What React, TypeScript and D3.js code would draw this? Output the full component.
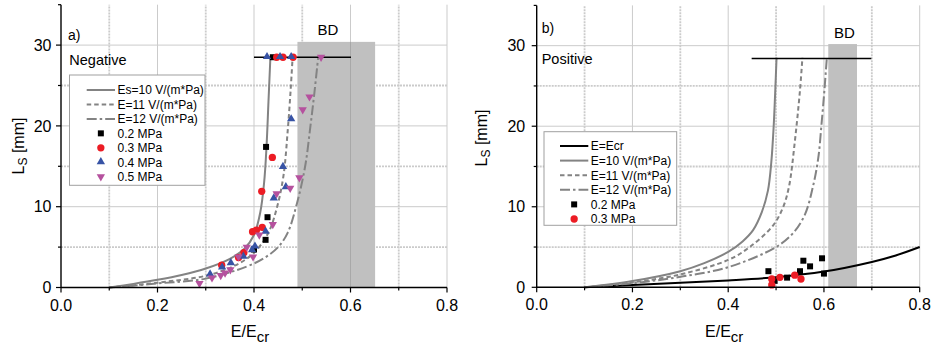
import React from "react";
import * as d3 from "d3";

type P = [number, number];

const X_MAJOR = [0, 0.2, 0.4, 0.6, 0.8];
const X_MINOR = [0.1, 0.3, 0.5, 0.7];
const Y_MAJOR = [0, 10, 20, 30];
const Y_MINOR = [5, 15, 25, 35];

// ---- Panel a) Negative ----
const A_ES10: P[] = [[0.1, 0], [0.15, 0.45], [0.2, 0.95], [0.25, 1.55], [0.3, 2.35], [0.35, 3.55], [0.38, 4.8], [0.4, 6.5], [0.413, 9.3], [0.421, 13], [0.426, 17.5], [0.43, 23], [0.434, 28.5]];
const A_E11: P[] = [[0.1, 0], [0.2, 0.6], [0.3, 1.45], [0.36, 2.7], [0.4, 4.3], [0.43, 6.8], [0.448, 10], [0.461, 13.8], [0.47, 19.5], [0.476, 24.5], [0.48, 28.5]];
const A_E12: P[] = [[0.1, 0], [0.2, 0.5], [0.3, 1.1], [0.385, 2.6], [0.42, 3.6], [0.45, 5.0], [0.47, 6.8], [0.489, 10.4], [0.506, 15], [0.517, 20], [0.525, 24], [0.533, 28.5]];
const A_P02: P[] = [[0.439, 28.5], [0.425, 17.4], [0.428, 8.7], [0.424, 5.9], [0.4, 4.7]];
const A_P03: P[] = [[0.447, 28.5], [0.46, 28.5], [0.481, 28.5], [0.438, 16.1], [0.416, 11.9], [0.397, 6.9], [0.405, 7.1], [0.417, 7.45], [0.379, 4.3], [0.368, 3.7], [0.333, 2.75]];
const A_P04: P[] = [[0.427, 28.5], [0.454, 28.5], [0.477, 28.5], [0.477, 20.8], [0.46, 14.9], [0.466, 12.4], [0.441, 11.0], [0.424, 6.9], [0.402, 5.05], [0.396, 4.6], [0.378, 3.8], [0.352, 3.0], [0.334, 2.45], [0.309, 1.6]];
const A_P05: P[] = [[0.539, 28.5], [0.515, 23.6], [0.501, 22.0], [0.494, 13.6], [0.475, 12.3], [0.447, 11.6], [0.439, 7.8], [0.411, 6.5], [0.385, 5.0], [0.398, 3.8], [0.368, 3.8], [0.351, 2.2], [0.34, 1.8], [0.331, 1.5], [0.313, 1.2], [0.287, 0.5]];
const A_BD: [number, number, number] = [0.49, 0.651, 30.4];
const A_LIMIT: [number, number, number] = [0.4, 0.601, 28.5];
const A_LEGEND = ["Es=10 V/(m*Pa)", "E=11 V/(m*Pa)", "E=12 V/(m*Pa)", "0.2 MPa", "0.3 MPa", "0.4 MPa", "0.5 MPa"];

// ---- Panel b) Positive ----
const B_ECR: P[] = [[0.1, 0], [0.2, 0.28], [0.3, 0.55], [0.4, 0.85], [0.5, 1.25], [0.6, 1.95], [0.7, 3.15], [0.75, 3.95], [0.8, 5.0]];
const B_E10: P[] = [[0.1, 0], [0.2, 0.78], [0.3, 2.0], [0.35, 3.0], [0.4, 4.4], [0.43, 5.7], [0.452, 7.1], [0.47, 9.3], [0.483, 12], [0.49, 15.5], [0.495, 20], [0.498, 24], [0.501, 28.5]];
const B_E11: P[] = [[0.1, 0], [0.2, 0.6], [0.3, 1.6], [0.4, 3.4], [0.445, 5], [0.494, 7.7], [0.515, 10], [0.527, 12.5], [0.539, 18], [0.55, 24.5], [0.555, 28.5]];
const B_E12: P[] = [[0.1, 0], [0.2, 0.5], [0.3, 1.3], [0.4, 2.5], [0.5, 5.0], [0.535, 6.7], [0.56, 9.0], [0.577, 12.5], [0.588, 16], [0.595, 20.3], [0.601, 24.5], [0.606, 28.5]];
const B_P02: P[] = [[0.484, 2.0], [0.497, 0.8], [0.523, 1.2], [0.55, 2.0], [0.557, 3.3], [0.571, 2.6], [0.596, 3.6], [0.6, 1.7]];
const B_P03: P[] = [[0.491, 1.03], [0.491, 0.3], [0.508, 1.24], [0.539, 1.5], [0.552, 1.03]];
const B_BD: [number, number, number] = [0.609, 0.669, 30.2];
const B_LIMIT: [number, number, number] = [0.449, 0.699, 28.4];
const B_LEGEND = ["E=Ecr", "E=10 V/(m*Pa)", "E=11 V/(m*Pa)", "E=12 V/(m*Pa)", "0.2 MPa", "0.3 MPa"];

const FONT = "'Liberation Sans', Arial, Helvetica, sans-serif";
const GRAY = "#838383";
const GRID = "#cbcbcb";

type LineStyle = { stroke: string; dash?: string; width: number };
const ST_BLACK: LineStyle = { stroke: "#000", width: 2 };
const ST_SOLID: LineStyle = { stroke: GRAY, width: 2 };
const ST_DASH: LineStyle = { stroke: GRAY, width: 2, dash: "4.5,3" };
const ST_DASHDOT: LineStyle = { stroke: GRAY, width: 2, dash: "10,3,2.5,3" };

type MarkerKind = "square" | "circle" | "up" | "down";
const MK: Record<MarkerKind, { fill: string; path: string }> = {
  square: { fill: "#000", path: d3.symbol(d3.symbolSquare, 36)()! },
  circle: { fill: "#ec1c24", path: d3.symbol(d3.symbolCircle, 42)()! },
  up: { fill: "#3753a5", path: d3.symbol(d3.symbolTriangle, 30)()! },
  down: { fill: "#b5519e", path: d3.symbol(d3.symbolTriangle, 30)()! },
};

function Marker({ kind, x, y }: { kind: MarkerKind; x: number; y: number }) {
  const m = MK[kind];
  const tr = kind === "down" ? `translate(${x},${y}) rotate(180)` : kind === "up" ? `translate(${x},${y - 0.5})` : `translate(${x},${y})`;
  return <path d={m.path} transform={tr} fill={m.fill} />;
}

type LegendItem = { label: string; line?: LineStyle; marker?: MarkerKind };

type PanelProps = {
  xr: [number, number];
  yr: [number, number];
  curves: { data: P[]; style: LineStyle }[];
  markers: { data: P[]; kind: MarkerKind }[];
  bd: [number, number, number];
  limit: [number, number, number];
  bdLabelX: number;
  tag: string;
  tagPos: [number, number];
  name: string;
  namePos: [number, number];
  legend: LegendItem[];
  legendBox: [number, number, number, number];
  legendRow0: number;
  legendStep: number;
  legendLineX: [number, number];
  yLabelGap: number;
  yTitle: [number, number];
};

function Panel(p: PanelProps) {
  const x = d3.scaleLinear().domain([0, 0.8]).range(p.xr);
  const y = d3.scaleLinear().domain([0, 35]).range(p.yr);
  const line = d3.line<P>().x((d) => x(d[0])).y((d) => y(d[1])).curve(d3.curveCatmullRom.alpha(0.5));
  const [x0, x1] = p.xr;
  const y0 = y(0);
  const yTop = y(35);
  const fmt = d3.format(".1f");
  const [lx, ly, lw, lh] = p.legendBox;
  return (
    <g fontFamily={FONT}>
      {/* minor grid */}
      {X_MINOR.map((v) => (
        <line key={"gxm" + v} x1={x(v)} x2={x(v)} y1={y0} y2={yTop} stroke={GRID} strokeWidth={1.8} strokeDasharray="2,1" />
      ))}
      {Y_MINOR.filter((v) => v < 35).map((v) => (
        <line key={"gym" + v} x1={x0} x2={x1} y1={y(v)} y2={y(v)} stroke={GRID} strokeWidth={1.8} strokeDasharray="2,1" />
      ))}
      {/* major grid */}
      {X_MAJOR.filter((v) => v > 0).map((v) => (
        <line key={"gx" + v} x1={x(v)} x2={x(v)} y1={y0} y2={yTop} stroke={GRID} strokeWidth={1} />
      ))}
      {Y_MAJOR.filter((v) => v > 0).map((v) => (
        <line key={"gy" + v} x1={x0} x2={x1} y1={y(v)} y2={y(v)} stroke={GRID} strokeWidth={1} />
      ))}
      {/* BD region */}
      <rect x={x(p.bd[0])} y={y(p.bd[2])} width={x(p.bd[1]) - x(p.bd[0])} height={y0 - y(p.bd[2])} fill="#c0c0c0" />
      {X_MAJOR.filter((v) => v > p.bd[0] && v < p.bd[1]).map((v) => (
        <line key={"gbd" + v} x1={x(v)} x2={x(v)} y1={y0} y2={y(p.bd[2])} stroke="#a8a8a8" strokeWidth={1} />
      ))}
      <text x={x(p.bdLabelX)} y={y(p.bd[2]) - 6.5} textAnchor="middle" fontSize={15}>BD</text>
      {/* curves */}
      {p.curves.map((c, i) => (
        <path key={"c" + i} d={line(c.data)!} fill="none" stroke={c.style.stroke} strokeWidth={c.style.width} strokeDasharray={c.style.dash} />
      ))}
      {/* limit line */}
      <line x1={x(p.limit[0])} x2={x(p.limit[1])} y1={y(p.limit[2])} y2={y(p.limit[2])} stroke="#000" strokeWidth={1.6} />
      {/* markers */}
      {p.markers.map((m, i) =>
        m.data.map((d, j) => <Marker key={"m" + i + "-" + j} kind={m.kind} x={x(d[0])} y={y(d[1])} />)
      )}
      {/* axes */}
      <line x1={x0} x2={x0} y1={y0 + 0.6} y2={yTop} stroke="#000" strokeWidth={1.4} />
      <line x1={x0} x2={x1} y1={y0} y2={y0} stroke="#000" strokeWidth={1.4} />
      {X_MAJOR.map((v) => (
        <line key={"tx" + v} x1={x(v)} x2={x(v)} y1={y0} y2={y0 + 5} stroke="#000" strokeWidth={1.2} />
      ))}
      {X_MINOR.map((v) => (
        <line key={"txm" + v} x1={x(v)} x2={x(v)} y1={y0} y2={y0 + 3} stroke="#000" strokeWidth={1.2} />
      ))}
      {Y_MAJOR.map((v) => (
        <line key={"ty" + v} x1={x0 - 5} x2={x0} y1={y(v)} y2={y(v)} stroke="#000" strokeWidth={1.2} />
      ))}
      {Y_MINOR.map((v) => (
        <line key={"tym" + v} x1={x0 - 3} x2={x0} y1={y(v)} y2={y(v)} stroke="#000" strokeWidth={1.2} />
      ))}
      {X_MAJOR.map((v) => (
        <text key={"lx" + v} x={x(v)} y={y0 + 23} textAnchor="middle" fontSize={16}>{fmt(v)}</text>
      ))}
      {Y_MAJOR.map((v) => (
        <text key={"ly" + v} x={x0 - p.yLabelGap} y={y(v) + 5.7} textAnchor="end" fontSize={16}>{v}</text>
      ))}
      {/* axis titles */}
      <text x={(x0 + x1) / 2 - 4} y={337} textAnchor="middle" fontSize={16}>
        E/E<tspan dy={5} fontSize={15}>cr</tspan>
      </text>
      <text transform={`translate(${p.yTitle[0]},${p.yTitle[1]}) rotate(-90)`} textAnchor="middle" fontSize={16}>
        L<tspan dy={3} fontSize={12}>S</tspan><tspan dy={-3}> [mm]</tspan>
      </text>
      {/* labels */}
      <text x={p.tagPos[0]} y={p.tagPos[1]} fontSize={14}>{p.tag}</text>
      <text x={p.namePos[0]} y={p.namePos[1]} fontSize={14.5}>{p.name}</text>
      {/* legend */}
      <rect x={lx} y={ly} width={lw} height={lh} fill="#fff" stroke="#a0a0a0" strokeWidth={1} />
      {p.legend.map((it, i) => {
        const ry = p.legendRow0 + i * p.legendStep;
        return (
          <g key={"lg" + i}>
            {it.line && (
              <line x1={p.legendLineX[0]} x2={p.legendLineX[1]} y1={ry} y2={ry} stroke={it.line.stroke} strokeWidth={it.line.width} strokeDasharray={it.line.dash} />
            )}
            {it.marker && <Marker kind={it.marker} x={(p.legendLineX[0] + p.legendLineX[1]) / 2} y={ry} />}
            <text x={p.legendLineX[1] + 2.5} y={ry + 4.3} fontSize={12}>{it.label}</text>
          </g>
        );
      })}
    </g>
  );
}

export default function App() {
  return (
    <svg width={935} height={348} style={{ display: "block", position: "absolute", left: 0, top: 0, background: "#fff" }}>
      <Panel
        xr={[61, 447]}
        yr={[287.5, 4.7]}
        curves={[
          { data: A_ES10, style: ST_SOLID },
          { data: A_E11, style: ST_DASH },
          { data: A_E12, style: ST_DASHDOT },
        ]}
        markers={[
          { data: A_P02, kind: "square" },
          { data: A_P03, kind: "circle" },
          { data: A_P04, kind: "up" },
          { data: A_P05, kind: "down" },
        ]}
        bd={A_BD}
        limit={A_LIMIT}
        bdLabelX={0.553}
        tag="a)"
        tagPos={[68, 40]}
        name="Negative"
        namePos={[69.3, 65]}
        legend={[
          { label: A_LEGEND[0], line: ST_SOLID },
          { label: A_LEGEND[1], line: ST_DASH },
          { label: A_LEGEND[2], line: ST_DASHDOT },
          { label: A_LEGEND[3], marker: "square" },
          { label: A_LEGEND[4], marker: "circle" },
          { label: A_LEGEND[5], marker: "up" },
          { label: A_LEGEND[6], marker: "down" },
        ]}
        legendBox={[69.5, 75, 135.5, 110.3]}
        legendRow0={90}
        legendStep={14.45}
        legendLineX={[86.7, 115]}
        yLabelGap={9.5}
        yTitle={[24, 146]}
      />
      <Panel
        xr={[536.7, 919.7]}
        yr={[287.3, 5.4]}
        curves={[
          { data: B_ECR, style: ST_BLACK },
          { data: B_E10, style: ST_SOLID },
          { data: B_E11, style: ST_DASH },
          { data: B_E12, style: ST_DASHDOT },
        ]}
        markers={[
          { data: B_P02, kind: "square" },
          { data: B_P03, kind: "circle" },
        ]}
        bd={B_BD}
        limit={B_LIMIT}
        bdLabelX={0.643}
        tag="b)"
        tagPos={[541.7, 33]}
        name="Positive"
        namePos={[541.7, 64.3]}
        legend={[
          { label: B_LEGEND[0], line: ST_BLACK },
          { label: B_LEGEND[1], line: ST_SOLID },
          { label: B_LEGEND[2], line: ST_DASH },
          { label: B_LEGEND[3], line: ST_DASHDOT },
          { label: B_LEGEND[4], marker: "square" },
          { label: B_LEGEND[5], marker: "circle" },
        ]}
        legendBox={[544, 131.7, 132.7, 93.6]}
        legendRow0={146}
        legendStep={14.6}
        legendLineX={[560, 588.3]}
        yLabelGap={11.5}
        yTitle={[487, 138]}
      />
    </svg>
  );
}
